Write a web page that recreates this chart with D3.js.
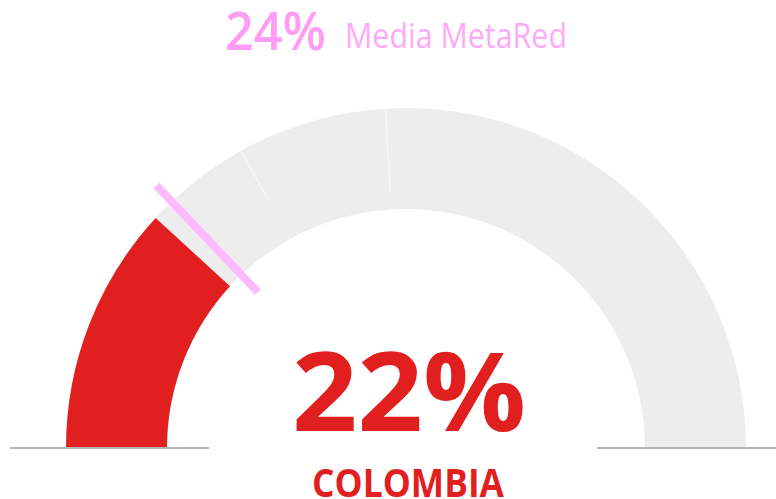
<!DOCTYPE html>
<html>
<head>
<meta charset="utf-8">
<script src="https://cdn.jsdelivr.net/npm/d3@7"></script>
<style>
  html, body { margin: 0; padding: 0; background: #fff; }
  svg { display: block; font-family: "Open Sans", sans-serif; }
</style>
</head>
<body>
<svg id="gauge"></svg>
<script>
const country = "COLOMBIA";
const countryValue = 22;
const averageValue = 24;
const averageLabel = "Media MetaRed";
const gaugeMax = 93;
const bandBreaks = [0, 31.5, 44.7, 93];

function main() {
    const width = 776;
    const height = 499;
    const cx = 406;
    const cy = 448;
    const outerR = 340;
    const innerR = 239;

    const svg = d3.select("#gauge").attr("width", width).attr("height", height);

    const angle = d3.scaleLinear().domain([0, gaugeMax]).range([-Math.PI / 2, Math.PI / 2]);
    const arc = d3.arc().innerRadius(innerR).outerRadius(outerR);

    const g = svg.append("g").attr("transform", "translate(" + cx + "," + cy + ")");

    // gray background bands
    const bands = d3.pairs(bandBreaks);
    g.selectAll(".band")
        .data(bands)
        .join("path")
        .attr("class", "band")
        .attr("fill", "#ededed")
        .attr("d", d => arc({ startAngle: angle(d[0]), endAngle: angle(d[1]) }));

    // faint seams between bands (they fade toward the inside)
    const seamInner = [282, 258];
    g.selectAll(".seam")
        .data(bandBreaks.slice(1, -1))
        .join("line")
        .attr("class", "seam")
        .attr("x1", (d, i) => seamInner[i] * Math.sin(angle(d)))
        .attr("y1", (d, i) => -seamInner[i] * Math.cos(angle(d)))
        .attr("x2", d => (outerR - 1) * Math.sin(angle(d)))
        .attr("y2", d => -(outerR - 1) * Math.cos(angle(d)))
        .attr("stroke", "#ffffff")
        .attr("stroke-opacity", 0.7)
        .attr("stroke-width", 1);

    // value arc
    g.append("path")
        .attr("fill", "#e11f1f")
        .attr("d", arc({ startAngle: angle(0), endAngle: angle(countryValue) }));

    // baseline
    svg.selectAll(".base")
        .data([[10, 209], [597, 776]])
        .join("line")
        .attr("class", "base")
        .attr("x1", d => d[0]).attr("x2", d => d[1])
        .attr("y1", cy).attr("y2", cy)
        .attr("stroke", "#b5b5b5")
        .attr("stroke-width", 2);

    // average marker
    const a = angle(averageValue);
    g.append("line")
        .attr("x1", 215 * Math.sin(a)).attr("y1", -215 * Math.cos(a))
        .attr("x2", 362 * Math.sin(a)).attr("y2", -362 * Math.cos(a))
        .attr("stroke", "#ffbaff")
        .attr("stroke-width", 8);

    // title
    svg.append("text")
        .attr("x", 225).attr("y", 50)
        .attr("font-size", 52).attr("font-weight", 600)
        .attr("fill", "#ff9cf3")
        .attr("textLength", 101).attr("lengthAdjust", "spacingAndGlyphs")
        .text(averageValue + "%");

    svg.append("text")
        .attr("x", 345).attr("y", 48)
        .attr("font-size", 34).attr("font-weight", 400)
        .attr("fill", "#ffaaf8")
        .attr("textLength", 222).attr("lengthAdjust", "spacingAndGlyphs")
        .text(averageLabel);

    // big value
    svg.append("text")
        .attr("x", 292).attr("y", 431)
        .attr("font-size", 110).attr("font-weight", 700)
        .attr("fill", "#e11f1f")
        .attr("textLength", 234).attr("lengthAdjust", "spacingAndGlyphs")
        .text(countryValue + "%");

    svg.append("text")
        .attr("x", 312).attr("y", 497)
        .attr("font-size", 40).attr("font-weight", 700)
        .attr("fill", "#e11f1f")
        .attr("textLength", 192).attr("lengthAdjust", "spacingAndGlyphs")
        .text(country);
}

main();
</script>
</body>
</html>
